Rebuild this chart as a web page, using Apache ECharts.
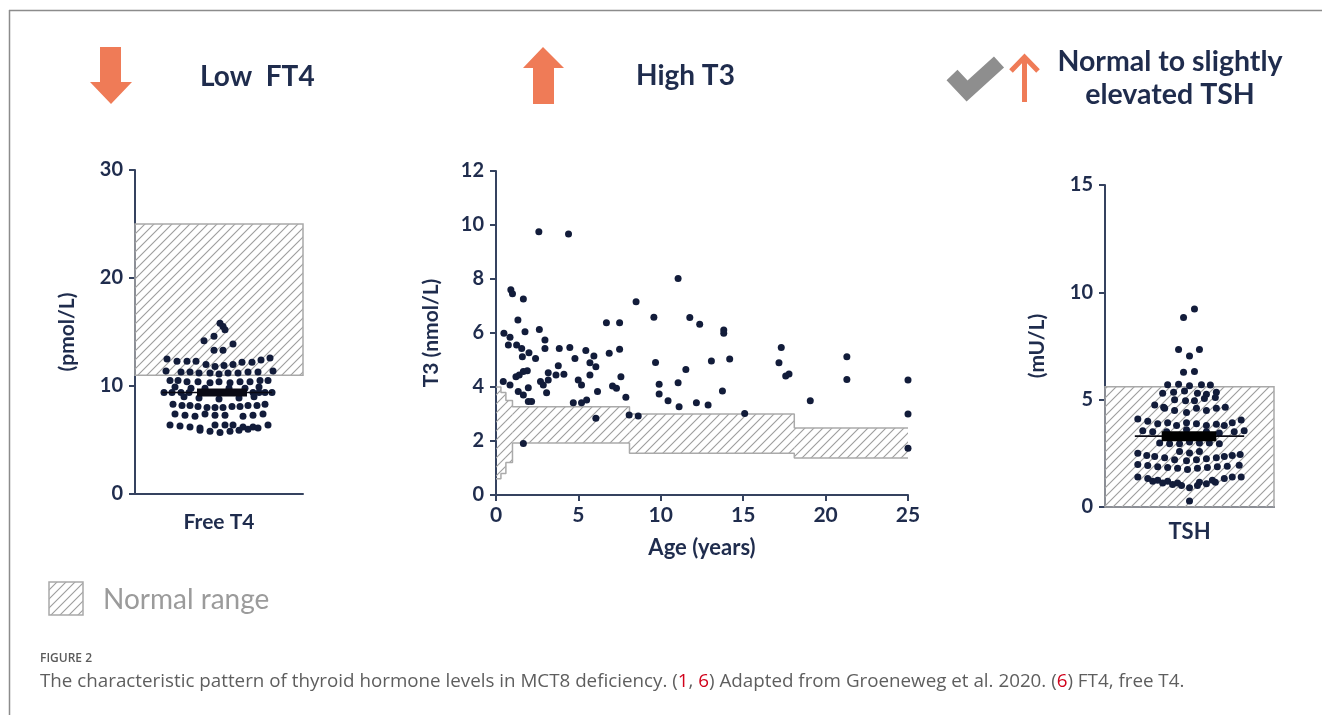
<!DOCTYPE html>
<html>
<head>
<meta charset="utf-8">
<title>Thyroid hormone pattern in MCT8 deficiency</title>
<script src="https://cdn.jsdelivr.net/npm/echarts@6/dist/echarts.min.js"></script>
<style>
  html, body { margin: 0; padding: 0; background: #fff; }
  #chart { width: 1322px; height: 715px; }
</style>
</head>
<body>
<div id="chart"></div>
<script>
  // free T4 (pmol/L) – beeswarm, [jitter, value]
  const ft4Points = [
    [1, 15.8], [4, 15.5], [6, 15.2],
    [-15, 14.2], [-5, 14.6], [14, 13.9], [-5, 13.3], [4, 13.3],
    [-52, 12.5], [-42, 12.3], [-32, 12.3], [-23, 12.3], [-13, 12.0], [-4, 11.8],
    [5, 11.9], [14, 12.0], [23, 12.2], [33, 12.2], [42, 12.4], [51, 12.6],
    [-53, 11.4], [-38, 11.3], [-29, 11.3], [-20, 11.2], [-9, 11.2], [0, 11.1],
    [9, 11.2], [19, 11.2], [29, 11.3], [39, 11.3], [54, 11.4],
    [-49, 10.5], [-41, 10.5], [-32, 10.4], [-21, 10.4], [-9, 10.3], [0, 10.4],
    [11, 10.3], [21, 10.4], [31, 10.4], [41, 10.5], [49, 10.5],
    [-44, 9.9], [-28, 9.8], [-14, 9.8], [10, 9.8], [26, 9.8], [40, 9.9],
    [-55, 9.4], [-47, 9.4], [-38, 9.4], [-30, 9.4], [34, 9.4], [40, 9.4], [46, 9.4], [53, 9.4],
    [-35, 9.0], [-20, 8.9], [0, 8.8], [20, 8.9], [35, 9.0],
    [-46, 8.3], [-37, 8.2], [-29, 8.2], [-21, 8.1], [-12, 8.0], [-4, 8.0],
    [4, 8.0], [13, 8.1], [21, 8.1], [29, 8.2], [38, 8.2], [46, 8.3],
    [-44, 7.4], [-34, 7.3], [-24, 7.2], [-14, 7.4], [-4, 7.3], [6, 7.3], [24, 7.2], [34, 7.3], [44, 7.4],
    [-49, 6.4], [-39, 6.3], [-29, 6.2], [-19, 6.1], [-4, 6.4], [6, 6.4], [14, 6.4], [24, 6.2], [34, 6.2], [49, 6.4],
    [-19, 5.9], [-9, 5.8], [1, 5.7], [11, 5.8], [20, 5.9], [29, 6.0], [39, 6.1]
  ]
  const ft4Normal = [11, 25]
  const ft4Mean = 9.4
  const ft4MeanSpan = [-57, 53]
  const ft4SemSpan = [-22, 28]

  // T3 (nmol/L) against age (years)
  const t3Age = [
    2.6, 4.4, 0.9, 1.0, 1.66, 8.5, 1.33, 6.7, 7.5, 0.48, 0.85, 1.76, 2.63, 2.97,
    0.75, 1.25, 1.56, 1.6, 2.0, 2.4, 2.97, 3.84, 4.48, 4.79, 5.45, 5.94, 5.7, 6.06,
    6.87, 7.5, 3.78, 3.17, 3.64, 4.12, 0.44, 0.85, 1.21, 1.41, 1.66, 1.9, 1.96, 2.7,
    2.87, 3.07, 3.17, 4.99, 5.19, 5.7, 6.16, 1.35, 1.66, 1.96, 2.16, 4.69, 5.19, 5.5,
    6.06, 7.07, 7.31, 7.58, 7.88, 8.08, 8.63, 1.66, 11.05, 9.58, 11.76, 12.36, 13.82,
    13.82, 9.68, 11.52, 13.07, 14.18, 9.9, 11.05, 9.9, 10.44, 11.11, 12.16, 12.87,
    13.74, 15.09, 17.31, 17.17, 17.58, 17.78, 19.07, 21.29, 21.29, 25.0, 25.0, 25.0
  ]
  const t3Value = [
    9.75, 9.67, 7.6, 7.45, 7.26, 7.16, 6.48, 6.38, 6.38, 5.99, 5.84, 6.05, 6.13, 5.74,
    5.56, 5.56, 5.43, 5.12, 5.27, 5.06, 5.43, 5.43, 5.46, 5.06, 5.35, 5.15, 4.9, 4.75,
    5.25, 5.4, 4.79, 4.53, 4.44, 4.47, 4.2, 4.07, 4.38, 4.44, 4.57, 4.6, 3.97, 4.2,
    4.07, 3.79, 4.26, 4.26, 4.07, 4.44, 3.83, 3.83, 3.7, 3.46, 3.46, 3.42, 3.42, 3.52,
    2.84, 4.04, 3.95, 4.38, 3.62, 2.96, 2.93, 1.91, 8.02, 6.58, 6.57, 6.32, 6.11,
    5.99, 4.91, 4.65, 4.96, 5.04, 4.1, 4.16, 3.74, 3.49, 3.27, 3.42, 3.33,
    3.85, 3.02, 5.46, 4.9, 4.41, 4.48, 3.49, 5.12, 4.28, 4.26, 3.0, 1.73
  ]
  // age-specific reference range (step edges)
  const refAge = [0, 0.3, 0.6, 1.0, 8.1, 18.1, 25]
  const refLow = [0.6, 0.8, 1.2, 1.93, 1.55, 1.37, 1.37]
  const refHigh = [4.0, 3.8, 3.5, 3.27, 3.0, 2.48, 2.48]

  // TSH (mU/L) – beeswarm, [jitter, value]
  const tshPoints = [
    [5, 9.22], [-6, 8.83], [-11, 7.34], [10, 7.34], [0, 7.03], [-6, 6.28], [5, 6.31],
    [-22, 5.7], [-11, 5.72], [0, 5.65], [12, 5.7], [21, 5.68],
    [-27, 5.3], [-16, 5.35], [-5, 5.4], [8, 5.3], [17, 5.25], [27, 5.35],
    [-35, 4.75], [-26, 4.65], [-15, 5.0], [-4, 4.95], [5, 4.95], [15, 5.05], [26, 5.1],
    [-25, 4.6], [-15, 4.5], [-3, 4.4], [7, 4.6], [17, 4.5], [27, 4.6], [36, 4.65],
    [-52, 4.1], [-42, 4.0], [-32, 3.88], [-22, 3.92], [-13, 3.8], [-3, 3.93],
    [7, 3.88], [17, 3.8], [27, 3.85], [35, 3.8], [43, 3.92], [52, 4.05],
    [-47, 3.55], [-37, 3.5], [-23, 3.5], [-3, 3.6], [17, 3.5], [30, 3.45], [45, 3.5], [55, 3.55],
    [-30, 2.98], [-20, 2.95], [-10, 2.95], [0, 3.03], [10, 2.98], [20, 2.98], [30, 2.95],
    [-10, 2.58], [0, 2.52], [10, 2.58],
    [-52, 2.5], [-43, 2.4], [-35, 2.35], [-25, 2.3], [-15, 2.2], [-3, 2.15],
    [7, 2.2], [17, 2.25], [27, 2.3], [35, 2.35], [43, 2.4], [51, 2.45],
    [-52, 1.98], [-42, 1.93], [-32, 1.87], [-22, 1.84], [-12, 1.8], [-2, 1.75],
    [8, 1.8], [18, 1.84], [28, 1.87], [38, 1.9], [50, 1.95],
    [-52, 1.4], [-42, 1.33], [-32, 1.25], [-22, 1.2], [-12, 1.12], [10, 1.15],
    [23, 1.25], [35, 1.33], [43, 1.4], [52, 1.4],
    [-37, 1.2], [-27, 1.12], [-17, 1.05], [-8, 1.0], [0, 0.9], [8, 1.0], [17, 1.08], [26, 1.15],
    [0, 0.28]
  ]
  const tshNormal = [0, 5.6]
  const tshMean = 3.3
  const tshMeanSpan = [-55, 55]
  const tshSemSpan = [-28, 27]

  const navy = '#1f2c4d'
  const dot = '#121c3a'
  const axisColor = '#35425f'
  const hatchGrey = '#9d9d9d'
  const orange = '#ef7b57'

  function hatchCanvas() {
    const c = document.createElement('canvas')
    c.width = 9
    c.height = 9
    const g = c.getContext('2d')
    g.strokeStyle = hatchGrey
    g.lineWidth = 1.1
    g.beginPath()
    g.moveTo(0, 9); g.lineTo(9, 0)
    g.moveTo(-1, 1); g.lineTo(1, -1)
    g.moveTo(8, 10); g.lineTo(10, 8)
    g.stroke()
    return c
  }
  const hatch = { image: hatchCanvas(), repeat: 'repeat' }

  // one rectangle per step of the reference range
  const refSegments = refAge.slice(0, -1).map((a, i) => [a, refAge[i + 1], refLow[i], refHigh[i]])

  const tickLabel = { color: navy, fontFamily: 'Lato', fontWeight: 'bold', fontSize: 20 }
  const nameStyle = { color: navy, fontFamily: 'Lato', fontWeight: 'bold', fontSize: 21 }
  const line = { onZero: false, lineStyle: { color: axisColor, width: 2 } }
  const tick = { show: true, length: 6, lineStyle: { color: axisColor, width: 2 } }

  const chart = echarts.init(document.getElementById('chart'), null, { renderer: 'canvas' })

  chart.setOption({
    animation: false,
    backgroundColor: '#fff',
    textStyle: { fontFamily: 'Lato' },
    grid: [
      { left: 135, top: 170, width: 168, height: 324, outerBoundsMode: 'none' },
      { left: 496, top: 171, width: 412, height: 324, outerBoundsMode: 'none' },
      { left: 1105, top: 185, width: 169, height: 322, outerBoundsMode: 'none' }
    ],
    xAxis: [
      {
        gridIndex: 0, type: 'value', min: -84, max: 84,
        axisLine: line, axisTick: { show: false }, axisLabel: { show: false }, splitLine: { show: false },
        name: 'Free T4', nameLocation: 'middle', nameGap: 18, nameTextStyle: nameStyle
      },
      {
        gridIndex: 1, type: 'value', min: 0, max: 25, interval: 5,
        axisLine: line, axisTick: tick, axisLabel: Object.assign({ margin: 10 }, tickLabel, { fontSize: 21 }),
        splitLine: { show: false },
        name: 'Age (years)', nameLocation: 'middle', nameGap: 42,
        nameTextStyle: Object.assign({}, nameStyle, { fontSize: 22 })
      },
      {
        gridIndex: 2, type: 'value', min: -85, max: 85,
        axisLine: line, axisTick: { show: false }, axisLabel: { show: false }, splitLine: { show: false },
        name: 'TSH', nameLocation: 'middle', nameGap: 14,
        nameTextStyle: Object.assign({}, nameStyle, { fontSize: 22 })
      }
    ],
    yAxis: [
      {
        gridIndex: 0, type: 'value', min: 0, max: 30, interval: 10,
        axisLine: line, axisTick: tick, axisLabel: Object.assign({ margin: 12 }, tickLabel),
        splitLine: { show: false },
        name: '(pmol/L)', nameLocation: 'middle', nameGap: 57, nameTextStyle: nameStyle
      },
      {
        gridIndex: 1, type: 'value', min: 0, max: 12, interval: 2,
        axisLine: line, axisTick: tick, axisLabel: Object.assign({ margin: 12 }, tickLabel),
        splitLine: { show: false },
        name: 'T3 (nmol/L)', nameLocation: 'middle', nameGap: 54, nameTextStyle: nameStyle
      },
      {
        gridIndex: 2, type: 'value', min: 0, max: 15, interval: 5,
        axisLine: line, axisTick: tick, axisLabel: Object.assign({ margin: 12 }, tickLabel),
        splitLine: { show: false },
        name: '(mU/L)', nameLocation: 'middle', nameGap: 57, nameTextStyle: nameStyle
      }
    ],
    series: [
      // free T4 panel
      {
        type: 'scatter', xAxisIndex: 0, yAxisIndex: 0, data: [], silent: true,
        markArea: {
          silent: true,
          itemStyle: { color: hatch, borderColor: '#a9a9a9', borderWidth: 1.5 },
          data: [[{ xAxis: -84, yAxis: ft4Normal[0] }, { xAxis: 84, yAxis: ft4Normal[1] }]]
        }
      },
      {
        type: 'scatter', xAxisIndex: 0, yAxisIndex: 0, data: ft4Points,
        symbolSize: 7, itemStyle: { color: dot, opacity: 1 }, z: 3
      },
      {
        type: 'line', xAxisIndex: 0, yAxisIndex: 0, z: 4, showSymbol: false, silent: true,
        data: ft4MeanSpan.map(x => [x, ft4Mean]), lineStyle: { color: '#0a0a14', width: 1.6 }
      },
      {
        type: 'line', xAxisIndex: 0, yAxisIndex: 0, z: 4, showSymbol: false, silent: true,
        data: ft4SemSpan.map(x => [x, ft4Mean]), lineStyle: { color: '#0a0a14', width: 8 }
      },
      // T3 panel: reference band
      {
        type: 'custom', xAxisIndex: 1, yAxisIndex: 1, z: 1, silent: true,
        data: refSegments,
        encode: { x: [0, 1], y: [2, 3] },
        renderItem: function (params, api) {
          const p0 = api.coord([api.value(0), api.value(3)])
          const p1 = api.coord([api.value(1), api.value(2)])
          return {
            type: 'rect',
            shape: { x: p0[0], y: p0[1], width: p1[0] - p0[0], height: p1[1] - p0[1] },
            style: { fill: hatch }
          }
        }
      },
      {
        type: 'line', xAxisIndex: 1, yAxisIndex: 1, step: 'end',
        showSymbol: false, silent: true, z: 2,
        data: refAge.map((a, i) => [a, refLow[i]]),
        lineStyle: { color: '#aaaaaa', width: 1.5 }
      },
      {
        type: 'line', xAxisIndex: 1, yAxisIndex: 1, step: 'end',
        showSymbol: false, silent: true, z: 2,
        data: refAge.map((a, i) => [a, refHigh[i]]),
        lineStyle: { color: '#aaaaaa', width: 1.5 }
      },
      {
        type: 'scatter', xAxisIndex: 1, yAxisIndex: 1, z: 3,
        data: t3Age.map((a, i) => [a, t3Value[i]]),
        symbolSize: 7, itemStyle: { color: dot, opacity: 1 }
      },
      // TSH panel
      {
        type: 'scatter', xAxisIndex: 2, yAxisIndex: 2, data: [], silent: true,
        markArea: {
          silent: true,
          itemStyle: { color: hatch, borderColor: '#a9a9a9', borderWidth: 1.5 },
          data: [[{ xAxis: -85, yAxis: tshNormal[0] }, { xAxis: 85, yAxis: tshNormal[1] }]]
        }
      },
      {
        type: 'scatter', xAxisIndex: 2, yAxisIndex: 2, data: tshPoints,
        symbolSize: 7, itemStyle: { color: dot, opacity: 1 }, z: 3
      },
      {
        type: 'line', xAxisIndex: 2, yAxisIndex: 2, z: 4, showSymbol: false, silent: true,
        data: tshMeanSpan.map(x => [x, tshMean]), lineStyle: { color: '#0a0a14', width: 1.6 }
      },
      {
        type: 'line', xAxisIndex: 2, yAxisIndex: 2, z: 4, showSymbol: false, silent: true,
        data: tshSemSpan.map(x => [x, tshMean]), lineStyle: { color: '#000000', width: 10 }
      }
    ],
    graphic: [
      // frame
      { type: 'line', shape: { x1: 9, y1: 10.5, x2: 1322, y2: 10.5 }, style: { stroke: '#8c8c8c', lineWidth: 1.5 } },
      { type: 'line', shape: { x1: 9.5, y1: 10, x2: 9.5, y2: 715 }, style: { stroke: '#8c8c8c', lineWidth: 1.5 } },
      // headers
      {
        type: 'polygon',
        shape: { points: [[100, 47], [121, 47], [121, 82], [132, 82], [111, 104], [90, 82], [100, 82]] },
        style: { fill: orange }
      },
      {
        type: 'text', x: 200, y: 77,
        style: { text: 'Low  FT4', fill: navy, font: 'bold 28px Lato', textVerticalAlign: 'middle' }
      },
      {
        type: 'polygon',
        shape: { points: [[543, 47], [564, 68], [554, 68], [554, 104], [533, 104], [533, 68], [523, 68]] },
        style: { fill: orange }
      },
      {
        type: 'text', x: 636, y: 76,
        style: { text: 'High T3', fill: navy, font: 'bold 28px Lato', textVerticalAlign: 'middle' }
      },
      {
        type: 'polyline',
        shape: { points: [[952, 75], [967, 91], [999, 62]] },
        style: { stroke: '#8e8e8e', lineWidth: 15, fill: null, lineJoin: 'miter' }
      },
      {
        type: 'polyline',
        shape: { points: [[1011, 71], [1024.5, 57], [1038, 71]] },
        style: { stroke: orange, lineWidth: 5, fill: null }
      },
      {
        type: 'line', shape: { x1: 1024.5, y1: 59, x2: 1024.5, y2: 102 },
        style: { stroke: orange, lineWidth: 5 }
      },
      {
        type: 'text', x: 1170, y: 62,
        style: { text: 'Normal to slightly', fill: navy, font: 'bold 28.5px Lato', textAlign: 'center', textVerticalAlign: 'middle' }
      },
      {
        type: 'text', x: 1170, y: 95,
        style: { text: 'elevated TSH', fill: navy, font: 'bold 28.5px Lato', textAlign: 'center', textVerticalAlign: 'middle' }
      },
      // legend
      {
        type: 'rect', shape: { x: 49, y: 582, width: 34, height: 33 },
        style: { fill: hatch, stroke: '#a9a9a9', lineWidth: 1.5 }
      },
      {
        type: 'text', x: 103, y: 600,
        style: { text: 'Normal range', fill: '#9b9b9b', font: '28px Lato', textVerticalAlign: 'middle' }
      },
      // caption
      {
        type: 'text', x: 40, y: 659,
        style: { text: 'FIGURE 2', fill: '#5a5a5a', font: '600 12px "Open Sans"', textVerticalAlign: 'middle' }
      },
      {
        type: 'text', x: 40, y: 682,
        style: {
          text: '{a|The characteristic pattern of thyroid hormone levels in MCT8 deficiency. (}{r|1}{a|, }{r|6}{a|) Adapted from Groeneweg et al. 2020. (}{r|6}{a|) FT4, free T4.}',
          textVerticalAlign: 'middle',
          rich: {
            a: { fill: '#5e5e5e', font: '18.8px "Open Sans"' },
            r: { fill: '#d0021b', font: '18.8px "Open Sans"' }
          }
        }
      }
    ]
  })
</script>
</body>
</html>
